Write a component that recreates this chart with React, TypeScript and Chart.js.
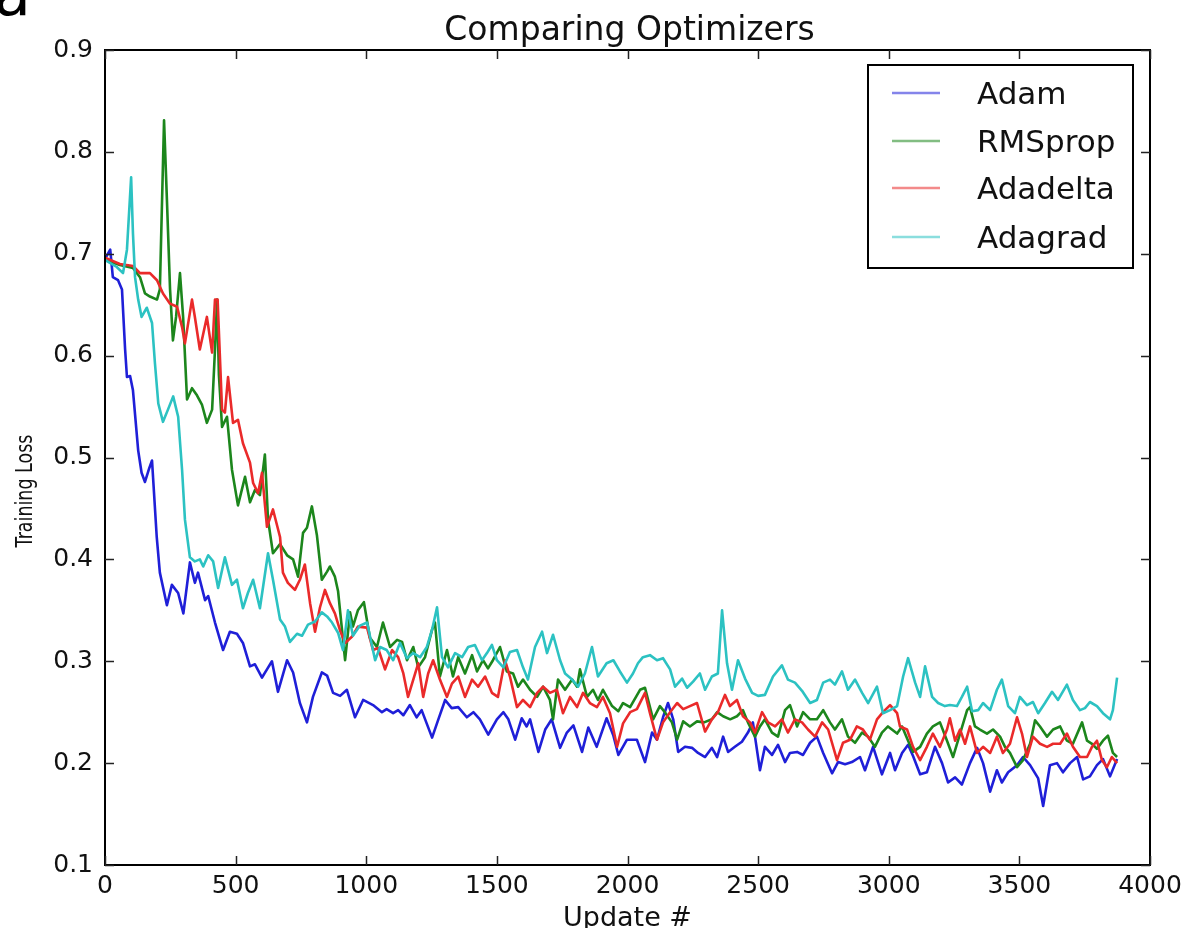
import React, { useEffect, useRef } from "react";
import { Chart, registerables } from "chart.js";

Chart.register(...registerables);

const chartTitle = "Comparing Optimizers";
const xAxisTitle = "Update #";
const yAxisTitle = "Training Loss";
const panelLabel = "a";

const xTickValues = [0, 500, 1000, 1500, 2000, 2500, 3000, 3500, 4000];
const yTickValues = [0.1, 0.2, 0.3, 0.4, 0.5, 0.6, 0.7, 0.8, 0.9];

const seriesNames = ["Adam", "RMSprop", "Adadelta", "Adagrad"];
const seriesColors = ["#1f1fd8", "#1c861c", "#ea2a2a", "#2cc2c2"];

// [update #, training loss]
const adamPoints: [number, number][] = [
  [0,0.695],[20,0.704],[30,0.677],[50,0.674],[65,0.665],[77,0.606],[84,0.579],[96,0.58],[107,0.566],[127,0.507],
  [140,0.485],[153,0.476],[170,0.49],[180,0.497],[198,0.422],[210,0.387],[237,0.355],[256,0.375],[280,0.367],[300,0.347],
  [325,0.397],[344,0.377],[356,0.387],[383,0.36],[395,0.364],[421,0.338],[452,0.311],[478,0.329],[505,0.327],[528,0.318],
  [555,0.295],[574,0.297],[601,0.284],[620,0.292],[639,0.3],[662,0.27],[697,0.301],[720,0.289],[746,0.259],[773,0.24],
  [796,0.265],[830,0.289],[850,0.286],[873,0.269],[900,0.266],[926,0.272],[957,0.245],[988,0.262],[1026,0.257],[1060,0.25],
  [1078,0.253],[1103,0.249],[1122,0.252],[1142,0.247],[1167,0.257],[1193,0.245],[1212,0.252],[1252,0.225],[1276,0.243],[1302,0.262],
  [1327,0.254],[1352,0.255],[1385,0.245],[1410,0.25],[1435,0.243],[1467,0.228],[1500,0.243],[1525,0.25],[1544,0.243],[1570,0.223],
  [1595,0.244],[1614,0.236],[1627,0.243],[1659,0.211],[1685,0.233],[1710,0.243],[1742,0.215],[1768,0.23],[1793,0.237],[1826,0.211],
  [1850,0.235],[1882,0.216],[1920,0.244],[1946,0.227],[1965,0.208],[1998,0.223],[2036,0.223],[2067,0.201],[2094,0.23],[2113,0.223],
  [2136,0.245],[2155,0.259],[2175,0.243],[2194,0.211],[2220,0.216],[2247,0.215],[2270,0.21],[2297,0.206],[2323,0.215],[2343,0.206],
  [2366,0.226],[2385,0.211],[2411,0.216],[2438,0.221],[2461,0.23],[2480,0.24],[2507,0.193],[2526,0.216],[2553,0.208],[2576,0.218],
  [2603,0.201],[2622,0.21],[2649,0.211],[2672,0.208],[2699,0.22],[2725,0.226],[2749,0.21],[2783,0.19],[2806,0.201],[2833,0.199],
  [2859,0.201],[2890,0.206],[2909,0.193],[2940,0.216],[2974,0.189],[3005,0.21],[3024,0.193],[3051,0.21],[3074,0.218],[3093,0.207],
  [3120,0.189],[3146,0.191],[3177,0.216],[3204,0.2],[3227,0.181],[3254,0.186],[3280,0.179],[3311,0.2],[3338,0.215],[3361,0.2],
  [3388,0.172],[3414,0.193],[3433,0.181],[3457,0.191],[3491,0.198],[3514,0.206],[3541,0.198],[3572,0.185],[3591,0.158],[3617,0.198],
  [3644,0.2],[3667,0.191],[3694,0.2],[3721,0.206],[3744,0.184],[3770,0.187],[3797,0.198],[3820,0.204],[3847,0.187],[3874,0.204],
];

const rmspropPoints: [number, number][] = [
  [0,0.694],[57,0.689],[107,0.686],[134,0.677],[153,0.661],[172,0.658],[199,0.655],[210,0.665],[226,0.831],[237,0.753],
  [249,0.665],[260,0.615],[272,0.638],[287,0.681],[299,0.638],[314,0.557],[333,0.568],[352,0.561],[371,0.552],[390,0.534],
  [410,0.547],[421,0.606],[429,0.655],[436,0.581],[448,0.53],[467,0.54],[486,0.488],[509,0.453],[536,0.481],[555,0.456],
  [574,0.468],[593,0.463],[612,0.503],[624,0.439],[643,0.406],[670,0.415],[697,0.404],[720,0.4],[739,0.383],[758,0.426],
  [773,0.431],[792,0.452],[811,0.424],[830,0.38],[850,0.388],[861,0.393],[880,0.383],[892,0.369],[919,0.301],[938,0.348],
  [949,0.334],[968,0.35],[991,0.358],[1014,0.323],[1041,0.314],[1064,0.338],[1091,0.314],[1118,0.321],[1137,0.319],[1156,0.301],
  [1180,0.314],[1199,0.294],[1225,0.304],[1252,0.331],[1263,0.338],[1282,0.285],[1309,0.311],[1332,0.285],[1352,0.304],[1378,0.288],
  [1405,0.306],[1424,0.29],[1447,0.301],[1466,0.293],[1485,0.301],[1512,0.314],[1538,0.29],[1562,0.288],[1581,0.275],[1600,0.282],
  [1627,0.272],[1654,0.265],[1677,0.275],[1703,0.262],[1715,0.243],[1734,0.282],[1761,0.272],[1788,0.282],[1807,0.275],[1818,0.292],
  [1845,0.265],[1868,0.272],[1887,0.262],[1906,0.272],[1941,0.256],[1965,0.251],[1983,0.259],[2010,0.255],[2048,0.272],[2067,0.274],
  [2098,0.243],[2124,0.256],[2143,0.25],[2170,0.24],[2190,0.223],[2213,0.241],[2239,0.236],[2266,0.241],[2293,0.24],[2323,0.243],
  [2343,0.25],[2366,0.246],[2393,0.243],[2419,0.246],[2442,0.252],[2461,0.24],[2488,0.226],[2507,0.236],[2526,0.243],[2553,0.23],
  [2576,0.226],[2603,0.252],[2622,0.257],[2649,0.236],[2672,0.25],[2699,0.243],[2725,0.243],[2749,0.252],[2775,0.24],[2794,0.233],
  [2821,0.243],[2844,0.226],[2871,0.22],[2898,0.23],[2921,0.226],[2947,0.216],[2974,0.23],[2997,0.236],[3032,0.229],[3051,0.236],
  [3074,0.222],[3093,0.211],[3120,0.216],[3146,0.229],[3169,0.236],[3196,0.24],[3223,0.222],[3246,0.206],[3273,0.229],[3300,0.252],
  [3311,0.255],[3330,0.236],[3349,0.233],[3376,0.229],[3399,0.233],[3426,0.226],[3445,0.216],[3464,0.21],[3491,0.196],[3514,0.203],
  [3541,0.219],[3560,0.242],[3579,0.236],[3606,0.226],[3629,0.233],[3656,0.236],[3682,0.222],[3705,0.219],[3740,0.24],[3759,0.222],
  [3778,0.219],[3797,0.214],[3820,0.222],[3839,0.227],[3858,0.21],[3874,0.206],
];

const adadeltaPoints: [number, number][] = [
  [0,0.696],[57,0.69],[107,0.688],[134,0.681],[172,0.681],[199,0.674],[222,0.661],[249,0.651],[276,0.648],[295,0.628],
  [306,0.612],[333,0.655],[344,0.638],[363,0.606],[390,0.638],[410,0.603],[421,0.655],[431,0.655],[448,0.547],[459,0.544],
  [471,0.579],[490,0.534],[509,0.537],[528,0.514],[555,0.495],[567,0.475],[586,0.465],[601,0.485],[620,0.432],[643,0.449],
  [670,0.422],[681,0.387],[700,0.377],[727,0.37],[746,0.38],[765,0.395],[785,0.357],[804,0.329],[823,0.353],[842,0.37],
  [861,0.357],[880,0.347],[900,0.33],[919,0.318],[945,0.324],[968,0.334],[1003,0.333],[1026,0.311],[1045,0.313],[1072,0.292],
  [1099,0.311],[1122,0.304],[1142,0.288],[1160,0.265],[1180,0.282],[1199,0.298],[1218,0.265],[1237,0.288],[1256,0.301],[1282,0.282],
  [1309,0.265],[1328,0.278],[1352,0.285],[1378,0.265],[1405,0.282],[1428,0.275],[1455,0.285],[1481,0.269],[1504,0.265],[1531,0.301],
  [1550,0.285],[1577,0.255],[1600,0.262],[1627,0.255],[1654,0.269],[1677,0.275],[1703,0.269],[1730,0.272],[1753,0.249],[1780,0.265],
  [1807,0.255],[1830,0.269],[1856,0.259],[1883,0.255],[1906,0.265],[1933,0.249],[1960,0.216],[1983,0.239],[2010,0.25],[2036,0.253],
  [2067,0.269],[2086,0.249],[2113,0.223],[2136,0.24],[2163,0.25],[2190,0.259],[2213,0.253],[2239,0.256],[2266,0.259],[2297,0.231],
  [2323,0.243],[2346,0.25],[2373,0.267],[2392,0.256],[2419,0.262],[2442,0.246],[2469,0.24],[2488,0.23],[2515,0.25],[2538,0.24],
  [2565,0.236],[2591,0.243],[2614,0.23],[2641,0.243],[2668,0.24],[2691,0.233],[2718,0.226],[2745,0.24],[2768,0.233],[2802,0.203],
  [2825,0.22],[2852,0.223],[2878,0.236],[2901,0.233],[2928,0.223],[2955,0.243],[2978,0.25],[3005,0.257],[3032,0.249],[3043,0.236],
  [3070,0.233],[3093,0.216],[3120,0.203],[3146,0.216],[3169,0.229],[3196,0.216],[3223,0.233],[3234,0.244],[3254,0.222],[3273,0.233],
  [3292,0.219],[3311,0.236],[3338,0.21],[3361,0.216],[3388,0.21],[3414,0.226],[3437,0.21],[3464,0.219],[3491,0.245],[3510,0.229],
  [3529,0.206],[3552,0.226],[3579,0.219],[3606,0.216],[3629,0.219],[3656,0.219],[3682,0.229],[3705,0.216],[3732,0.206],[3759,0.206],
  [3778,0.216],[3797,0.222],[3816,0.203],[3835,0.196],[3854,0.206],[3874,0.2],
];

const adagradPoints: [number, number][] = [
  [0,0.694],[45,0.687],[69,0.681],[84,0.704],[100,0.775],[107,0.72],[115,0.677],[127,0.655],[140,0.638],[160,0.647],
  [180,0.632],[191,0.593],[204,0.553],[222,0.535],[241,0.547],[261,0.56],[280,0.54],[295,0.488],[306,0.439],[325,0.402],
  [344,0.398],[363,0.4],[376,0.393],[395,0.404],[414,0.398],[433,0.372],[459,0.402],[486,0.375],[505,0.38],[528,0.352],
  [547,0.367],[567,0.38],[593,0.352],[624,0.406],[643,0.38],[670,0.341],[689,0.334],[708,0.319],[735,0.327],[754,0.325],
  [777,0.336],[804,0.339],[830,0.348],[850,0.344],[869,0.338],[892,0.328],[911,0.311],[930,0.35],[949,0.325],[976,0.335],
  [1003,0.338],[1034,0.301],[1053,0.314],[1078,0.311],[1103,0.301],[1129,0.318],[1156,0.303],[1180,0.308],[1206,0.304],[1232,0.314],
  [1252,0.331],[1271,0.353],[1290,0.304],[1313,0.294],[1340,0.308],[1367,0.304],[1390,0.314],[1416,0.316],[1443,0.301],[1462,0.308],
  [1481,0.316],[1500,0.301],[1525,0.294],[1550,0.309],[1577,0.311],[1600,0.294],[1619,0.282],[1646,0.314],[1673,0.329],[1692,0.308],
  [1715,0.326],[1742,0.301],[1761,0.288],[1788,0.282],[1811,0.275],[1837,0.288],[1864,0.314],[1887,0.285],[1920,0.298],[1946,0.301],
  [1971,0.29],[1998,0.279],[2021,0.288],[2040,0.298],[2059,0.304],[2086,0.306],[2113,0.301],[2136,0.303],[2163,0.292],[2182,0.275],
  [2209,0.283],[2228,0.274],[2251,0.28],[2277,0.288],[2297,0.272],[2323,0.285],[2346,0.288],[2362,0.35],[2381,0.298],[2400,0.272],
  [2423,0.301],[2450,0.283],[2477,0.269],[2500,0.266],[2526,0.267],[2557,0.285],[2591,0.296],[2614,0.282],[2641,0.279],[2668,0.271],
  [2699,0.259],[2725,0.262],[2749,0.279],[2775,0.282],[2794,0.277],[2821,0.29],[2844,0.272],[2871,0.282],[2898,0.269],[2921,0.259],
  [2955,0.275],[2978,0.249],[3005,0.252],[3032,0.256],[3055,0.285],[3074,0.303],[3101,0.279],[3120,0.265],[3139,0.295],[3166,0.265],
  [3189,0.259],[3215,0.256],[3234,0.257],[3261,0.256],[3280,0.265],[3300,0.275],[3319,0.251],[3342,0.252],[3361,0.259],[3388,0.252],
  [3414,0.272],[3433,0.282],[3457,0.256],[3483,0.249],[3502,0.265],[3529,0.257],[3552,0.26],[3572,0.249],[3598,0.259],[3625,0.27],
  [3648,0.262],[3682,0.277],[3705,0.262],[3732,0.252],[3751,0.254],[3770,0.26],[3797,0.256],[3820,0.249],[3847,0.243],[3858,0.252],
  [3874,0.284],
];

const seriesPoints = [adamPoints, rmspropPoints, adadeltaPoints, adagradPoints];

const FONT = "'DejaVu Sans', sans-serif";

const decorPlugin = {
  id: "decor",
  afterDatasetsDraw(chart: any) {
    const { ctx, chartArea } = chart;
    const { left, right, top, bottom } = chartArea;
    const xs = chart.scales.x;
    const ys = chart.scales.y;
    ctx.save();
    // frame
    ctx.strokeStyle = "#000";
    ctx.lineWidth = 2;
    ctx.strokeRect(left, top, right - left, bottom - top);
    // inward ticks on all sides
    ctx.lineWidth = 1.5;
    ctx.strokeStyle = "#222";
    const tl = 9;
    ctx.beginPath();
    for (const v of xTickValues) {
      const px = Math.round(xs.getPixelForValue(v)) + 0.5;
      ctx.moveTo(px, bottom);
      ctx.lineTo(px, bottom - tl);
      ctx.moveTo(px, top);
      ctx.lineTo(px, top + tl);
    }
    for (const v of yTickValues) {
      const py = Math.round(ys.getPixelForValue(v)) + 0.5;
      ctx.moveTo(left, py);
      ctx.lineTo(left + tl, py);
      ctx.moveTo(right, py);
      ctx.lineTo(right - tl, py);
    }
    ctx.stroke();

    // title
    ctx.fillStyle = "#111";
    ctx.textAlign = "center";
    ctx.textBaseline = "alphabetic";
    ctx.font = `33px ${FONT}`;
    ctx.fillText(chartTitle, (left + right) / 2 + 2, 40);

    // x axis title
    ctx.font = `27px ${FONT}`;
    ctx.fillText(xAxisTitle, (left + right) / 2, 926);

    // y axis title
    ctx.save();
    ctx.translate(32, 491);
    ctx.rotate(-Math.PI / 2);
    ctx.scale(0.76, 1);
    ctx.font = `23px ${FONT}`;
    ctx.fillText(yAxisTitle, 0, 0);
    ctx.restore();

    // panel label (clipped at top)
    ctx.textAlign = "left";
    ctx.font = `60px ${FONT}`;
    ctx.fillStyle = "#000";
    ctx.fillText(panelLabel, -6, 15);

    // legend
    const lx = 868, ly = 65, lw = 265, lh = 203;
    ctx.fillStyle = "#fff";
    ctx.fillRect(lx, ly, lw, lh);
    ctx.strokeStyle = "#000";
    ctx.lineWidth = 2;
    ctx.strokeRect(lx, ly, lw, lh);
    const rows = [93, 141, 188, 237];
    ctx.font = `31px ${FONT}`;
    seriesNames.forEach((name, i) => {
      const ry = rows[i];
      ctx.strokeStyle = seriesColors[i];
      ctx.globalAlpha = 0.55;
      ctx.lineWidth = 2.5;
      ctx.beginPath();
      ctx.moveTo(892, ry);
      ctx.lineTo(940, ry);
      ctx.stroke();
      ctx.globalAlpha = 1;
      ctx.fillStyle = "#111";
      ctx.fillText(name, 977, ry + 11);
    });
    ctx.restore();
  },
};

export default function App() {
  const canvasRef = useRef<HTMLCanvasElement | null>(null);

  useEffect(() => {
    const canvas = canvasRef.current;
    if (!canvas) return;
    const datasets = seriesNames.map((name, i) => ({
      label: name,
      data: seriesPoints[i].map(([u, l]) => ({ x: u, y: l })),
      borderColor: seriesColors[i],
      backgroundColor: seriesColors[i],
      borderWidth: 2.6,
      pointRadius: 0,
      tension: 0,
      fill: false,
      borderJoinStyle: "round" as const,
      order: seriesNames.length - i,
    }));

    const chart = new Chart(canvas, {
      type: "line",
      data: { datasets },
      options: {
        animation: false,
        responsive: false,
        devicePixelRatio: 1,
        layout: { padding: { top: 50, right: 40, left: 0, bottom: 0 } },
        plugins: {
          legend: { display: false },
          title: { display: false },
          tooltip: { enabled: false },
        },
        scales: {
          x: {
            type: "linear",
            min: 0,
            max: 4000,
            grid: { display: false, drawTicks: false },
            border: { display: false },
            afterBuildTicks: (scale: any) => {
              scale.ticks = xTickValues.map((v) => ({ value: v }));
            },
            afterFit: (scale: any) => {
              scale.height = 63;
            },
            ticks: {
              color: "#111",
              padding: 6,
              maxRotation: 0,
              autoSkip: false,
              font: { family: FONT, size: 25 },
              callback: (v: any) => String(v),
            },
          },
          y: {
            type: "linear",
            min: 0.1,
            max: 0.9,
            grid: { display: false, drawTicks: false },
            border: { display: false },
            afterBuildTicks: (scale: any) => {
              scale.ticks = yTickValues.map((v) => ({ value: v }));
            },
            afterFit: (scale: any) => {
              scale.width = 105;
            },
            ticks: {
              color: "#111",
              padding: 12,
              autoSkip: false,
              font: { family: FONT, size: 25 },
              callback: (v: any) => Number(v).toFixed(1),
            },
          },
        },
      },
      plugins: [decorPlugin],
    });
    return () => chart.destroy();
  }, []);

  return (
    <div style={{ position: "fixed", left: 0, top: 0, width: 1190, height: 928, background: "#fff" }}>
      <canvas ref={canvasRef} width={1190} height={928} style={{ display: "block", width: 1190, height: 928 }} />
    </div>
  );
}
